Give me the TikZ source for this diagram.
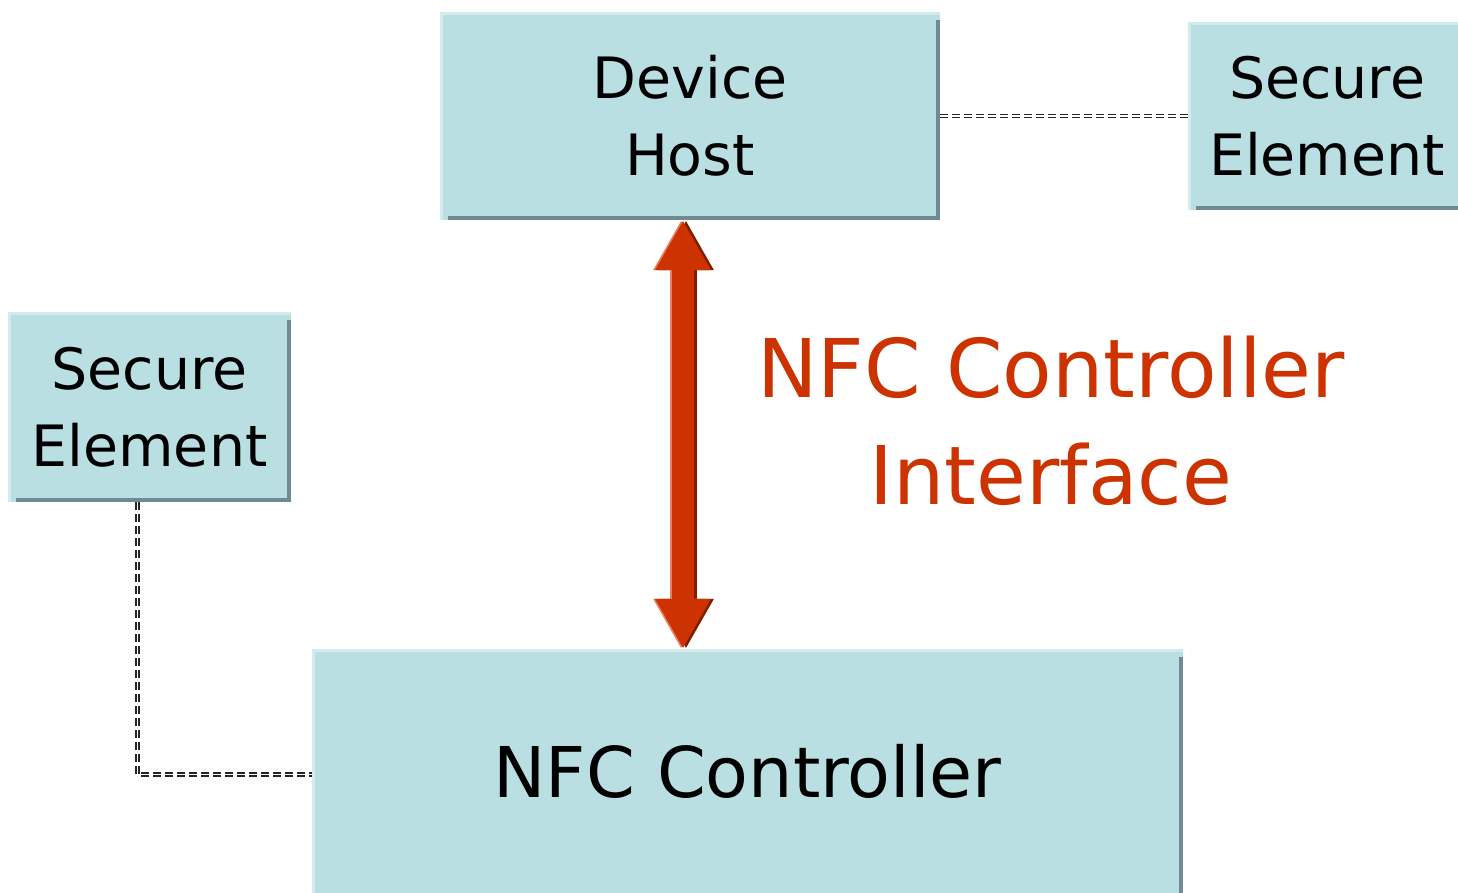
\documentclass[tikz,border=0pt]{standalone}
\usepackage{fontspec}
\setmainfont{DejaVu Sans}
\usetikzlibrary{arrows.meta}
\definecolor{boxfill}{RGB}{186,223,227}
\definecolor{boxlight}{RGB}{212,235,238}
\definecolor{boxedge}{RGB}{111,139,143}
\definecolor{ncired}{RGB}{204,51,0}
\definecolor{ncishadow}{RGB}{130,30,0}
\definecolor{ncilight}{RGB}{232,125,95}
\begin{document}
\begin{tikzpicture}[x=1pt, y=-1pt,
    block/.style={fill=boxfill, inner sep=0pt, align=center},
    sebox/.style={block, font=\fontsize{57}{77}\selectfont},
    link/.style={draw=black!85, line width=1.6pt, double=white, double distance=1.6pt, dash pattern=on 8pt off 4pt},
    nci/.style={line width=22pt, {Triangle[width=52pt,length=50pt]}-{Triangle[width=52pt,length=50pt]}}]
    \useasboundingbox[fill=white] (0,0) rectangle (1458,893);

    \node[sebox, minimum width=500pt, minimum height=208pt] (host) at (690,116) {Device\\Host};
    \node[sebox, minimum width=278pt, minimum height=188pt] (seright) at (1327,116) {Secure\\Element};
    \node[sebox, minimum width=283pt, minimum height=190pt] (seleft) at (149.5,407) {Secure\\Element};
    \node[block, font=\fontsize{70}{84}\selectfont, text depth=8pt, minimum width=871pt, minimum height=251pt] (nfcc) at (747.5,774.5) {NFC Controller};

    % bevelled edges
    \foreach \n in {host,seright,seleft,nfcc} {
        \draw[line width=3pt, draw=boxlight] ([xshift=1.5pt]\n.south west) -- ([xshift=1.5pt, yshift=-1.5pt]\n.north west) -- ([yshift=-1.5pt]\n.north east);
        \draw[line width=4pt, draw=boxedge] ([xshift=-2pt, yshift=-8pt]\n.north east) -- ([xshift=-2pt, yshift=2pt]\n.south east) -- ([xshift=8pt, yshift=2pt]\n.south west);
    }

    \draw[link] (host.east) -- (seright.west);
    \draw[link] ([xshift=-12pt]seleft.south) |- (nfcc.west);

    \draw[nci, draw=ncishadow, transform canvas={xshift=3pt}] ([xshift=-7pt]host.south) -- ([xshift=-7pt]host.south |- nfcc.north);
    \draw[nci, draw=ncilight, transform canvas={xshift=-2pt}] ([xshift=-7pt]host.south) -- ([xshift=-7pt]host.south |- nfcc.north);
    \draw[nci, draw=ncired] ([xshift=-7pt]host.south) -- ([xshift=-7pt]host.south |- nfcc.north);

    \node[text=ncired, align=center, inner sep=0pt, font=\fontsize{81}{107}\selectfont] (ncilabel) at (1051,421) {NFC Controller\\Interface};
\end{tikzpicture}
\end{document}
